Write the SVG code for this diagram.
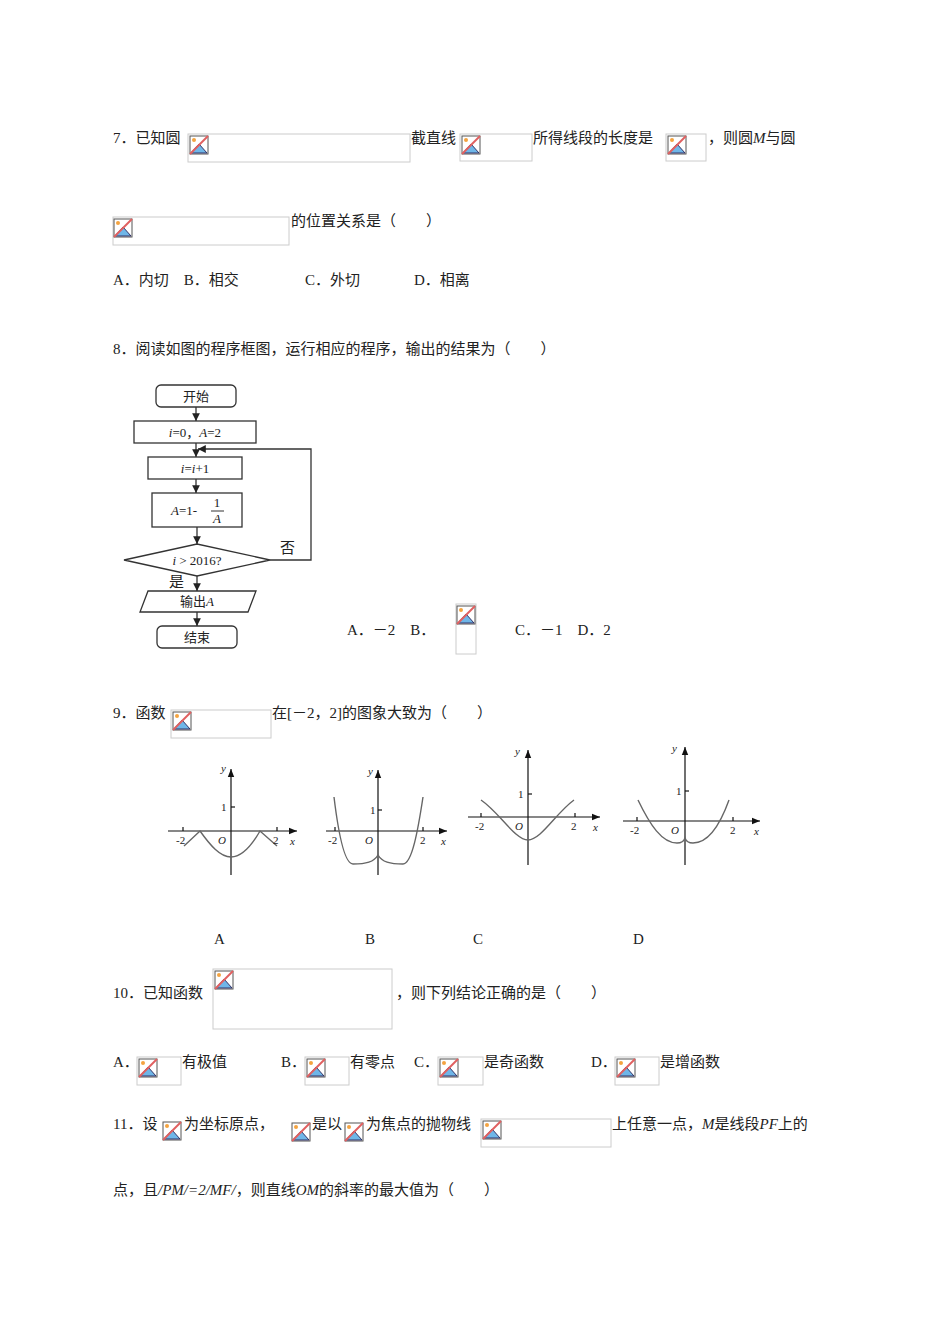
<svg xmlns="http://www.w3.org/2000/svg" width="950" height="1344" viewBox="0 0 950 1344">
<style>
text{font-family:"Liberation Serif","Noto Sans CJK SC",serif;font-size:15px;fill:#222}
.bx{fill:#fff;stroke:#ccc;stroke-width:1}
.fc{fill:#fff;stroke:#333;stroke-width:1.3}
.ft{font-size:13px;text-anchor:middle}
.ax{stroke:#111;stroke-width:1.2;fill:none}
.cv{stroke:#666;stroke-width:1.4;fill:none}
.gt{font-size:11px}
.cn{stroke:#333;stroke-width:1.3;fill:none}
</style>
<defs>
<symbol id="ic" viewBox="0 0 20 20">
<rect x="1" y="1" width="18" height="18" fill="#fff" stroke="#555"/>
<path d="M2 18 L10 9 L18 18 Z" fill="#6fb6e8" stroke="#336"/>
<circle cx="5" cy="5" r="2" fill="#f4a340"/>
<line x1="1" y1="19" x2="19" y2="1" stroke="#e06060" stroke-width="2"/>
</symbol>
<marker id="ar" viewBox="0 0 10 10" refX="10" refY="5" markerWidth="6" markerHeight="6" orient="auto"><path d="M0 0L10 5L0 10Z" fill="#222"/></marker>
<marker id="ax" viewBox="0 0 10 10" refX="10" refY="5" markerWidth="7" markerHeight="7" orient="auto"><path d="M0 1L10 5L0 9Z" fill="#111"/></marker>
</defs>
<rect width="950" height="1344" fill="#fff"/>
<g id="q7">
<text x="113" y="143">7．已知圆</text>
<rect class="bx" x="188" y="134" width="222" height="28"/><use href="#ic" x="189" y="135" width="20" height="20"/>
<text x="411" y="143">截直线</text>
<rect class="bx" x="460" y="134" width="72" height="27"/><use href="#ic" x="461" y="135" width="20" height="20"/>
<text x="533" y="143">所得线段的长度是</text>
<rect class="bx" x="666" y="134" width="40" height="27"/><use href="#ic" x="667" y="135" width="20" height="20"/>
<text x="708" y="143">，则圆<tspan font-style="italic">M</tspan>与圆</text>
<rect class="bx" x="113" y="217" width="176" height="28"/><use href="#ic" x="113" y="218" width="20" height="20"/>
<text x="291" y="226">的位置关系是（　　）</text>
<text x="113" y="285">A．内切　B．相交</text>
<text x="305" y="285">C．外切</text>
<text x="414" y="285">D．相离</text>
</g>
<g id="q8">
<text x="113" y="354">8．阅读如图的程序框图，运行相应的程序，输出的结果为（　　）</text>
</g>
<g id="flowchart">
<g id="n-start"><rect class="fc" x="156" y="385" width="80" height="22" rx="5"/><text class="ft" x="196" y="401">开始</text></g>
<g id="n-init"><rect class="fc" x="134" y="421" width="122" height="22"/><text class="ft" x="195" y="437" font-style="italic">i<tspan font-style="normal">=0，</tspan>A<tspan font-style="normal">=2</tspan></text></g>
<g id="n-inc"><rect class="fc" x="148" y="457" width="94" height="22"/><text class="ft" x="195" y="473" font-style="italic">i<tspan font-style="normal">=</tspan>i<tspan font-style="normal">+1</tspan></text></g>
<g id="n-a"><rect class="fc" x="152" y="493" width="90" height="34"/><text class="ft" x="184" y="515" font-style="italic">A<tspan font-style="normal">=1-</tspan></text><text class="ft" x="217" y="507">1</text><line x1="211" y1="511" x2="224" y2="511" stroke="#333"/><text class="ft" x="217" y="523" font-style="italic">A</text></g>
<g id="n-cond"><path class="fc" d="M124 560L197 544L270 560L197 576Z"/><text class="ft" x="197" y="565"><tspan font-style="italic">i</tspan> &gt; 2016?</text></g>
<g id="n-out"><path class="fc" d="M148 591L256 591L248 612L140 612Z"/><text class="ft" x="197" y="606">输出<tspan font-style="italic">A</tspan></text></g>
<g id="n-end"><rect class="fc" x="157" y="626" width="80" height="22" rx="5"/><text class="ft" x="197" y="642">结束</text></g>
<g id="connectors">
<line class="cn" x1="196" y1="407" x2="196" y2="421" marker-end="url(#ar)"/>
<line class="cn" x1="196" y1="443" x2="196" y2="457" marker-end="url(#ar)"/>
<line class="cn" x1="196" y1="479" x2="196" y2="493" marker-end="url(#ar)"/>
<line class="cn" x1="197" y1="527" x2="197" y2="544" marker-end="url(#ar)"/>
<line class="cn" x1="197" y1="576" x2="197" y2="591" marker-end="url(#ar)"/>
<line class="cn" x1="197" y1="612" x2="197" y2="626" marker-end="url(#ar)"/>
<polyline class="cn" points="270,560 311,560 311,449 198,449" marker-end="url(#ar)"/>
<text x="280" y="553" font-size="13">否</text>
<text x="169" y="587" font-size="13">是</text>
</g>
</g>
<g id="q8opts">
<text x="347" y="635">A．－2　B．</text>
<rect class="bx" x="456" y="604" width="20" height="50"/><use href="#ic" x="456" y="605" width="20" height="20"/>
<text x="515" y="635">C．－1　D．2</text>
</g>
<g id="q9">
<text x="113" y="718">9．函数</text>
<rect class="bx" x="171" y="710" width="100" height="28"/><use href="#ic" x="172" y="711" width="20" height="20"/>
<text x="272" y="718">在[－2，2]的图象大致为（　　）</text>
</g>
<g id="graphA">
<line class="ax" x1="168" y1="831" x2="297" y2="831" marker-end="url(#ax)"/>
<line class="ax" x1="231" y1="875" x2="231" y2="769" marker-end="url(#ax)"/>
<line class="ax" x1="231" y1="807" x2="235" y2="807"/><line class="ax" x1="183" y1="831" x2="183" y2="827"/><line class="ax" x1="277" y1="831" x2="277" y2="827"/>
<path class="cv" d="M184 846L200 831C210 845 220 857 231 857C242 857 252 845 260 831L277 846"/>
<text class="gt" x="221" y="772" font-style="italic">y</text><text class="gt" x="221" y="811">1</text>
<text class="gt" x="176" y="844">-2</text><text class="gt" x="218" y="844" font-style="italic">O</text><text class="gt" x="273" y="844">2</text><text class="gt" x="290" y="845" font-style="italic">x</text>
</g>
<g id="graphB">
<line class="ax" x1="326" y1="831" x2="447" y2="831" marker-end="url(#ax)"/>
<line class="ax" x1="378" y1="875" x2="378" y2="770" marker-end="url(#ax)"/>
<line class="ax" x1="378" y1="810" x2="382" y2="810"/><line class="ax" x1="335" y1="831" x2="335" y2="827"/><line class="ax" x1="423" y1="831" x2="423" y2="827"/>
<path class="cv" d="M334 797C338 830 344 864 353 864C366 864 374 862 378 855C382 862 390 864 403 864C412 864 418 830 423 797"/>
<text class="gt" x="368" y="775" font-style="italic">y</text><text class="gt" x="370" y="814">1</text>
<text class="gt" x="328" y="844">-2</text><text class="gt" x="365" y="844" font-style="italic">O</text><text class="gt" x="420" y="844">2</text><text class="gt" x="441" y="845" font-style="italic">x</text>
</g>
<g id="graphC">
<line class="ax" x1="468" y1="817" x2="600" y2="817" marker-end="url(#ax)"/>
<line class="ax" x1="528" y1="865" x2="528" y2="750" marker-end="url(#ax)"/>
<line class="ax" x1="528" y1="794" x2="532" y2="794"/><line class="ax" x1="481" y1="817" x2="481" y2="813"/><line class="ax" x1="575" y1="817" x2="575" y2="813"/>
<path class="cv" d="M481 800C500 813 515 840 528 840C541 840 556 813 574 800"/>
<text class="gt" x="515" y="755" font-style="italic">y</text><text class="gt" x="518" y="798">1</text>
<text class="gt" x="475" y="830">-2</text><text class="gt" x="515" y="830" font-style="italic">O</text><text class="gt" x="571" y="830">2</text><text class="gt" x="593" y="831" font-style="italic">x</text>
</g>
<g id="graphD">
<line class="ax" x1="623" y1="821" x2="760" y2="821" marker-end="url(#ax)"/>
<line class="ax" x1="685" y1="865" x2="685" y2="747" marker-end="url(#ax)"/>
<line class="ax" x1="685" y1="791" x2="689" y2="791"/><line class="ax" x1="637" y1="821" x2="637" y2="817"/><line class="ax" x1="733" y1="821" x2="733" y2="817"/>
<path class="cv" d="M638 800C650 825 662 843 677 843C682 843 684 841 685 838C686 841 688 843 693 843C708 843 720 825 729 800"/>
<text class="gt" x="672" y="752" font-style="italic">y</text><text class="gt" x="676" y="795">1</text>
<text class="gt" x="630" y="834">-2</text><text class="gt" x="671" y="834" font-style="italic">O</text><text class="gt" x="730" y="834">2</text><text class="gt" x="754" y="835" font-style="italic">x</text>
</g>
<g id="labels9">
<text x="214" y="944">A</text><text x="365" y="944">B</text><text x="473" y="944">C</text><text x="633" y="944">D</text>
</g>
<g id="q10">
<text x="113" y="998">10．已知函数</text>
<rect class="bx" x="213" y="969" width="179" height="60"/><use href="#ic" x="214" y="970" width="20" height="20"/>
<text x="396" y="998">，则下列结论正确的是（　　）</text>
<text x="113" y="1067">A．</text><rect class="bx" x="137" y="1057" width="44" height="28"/><use href="#ic" x="138" y="1058" width="20" height="20"/><text x="182" y="1067">有极值</text>
<text x="281" y="1067">B．</text><rect class="bx" x="305" y="1057" width="44" height="28"/><use href="#ic" x="306" y="1058" width="20" height="20"/><text x="350" y="1067">有零点</text>
<text x="414" y="1067">C．</text><rect class="bx" x="438" y="1057" width="45" height="28"/><use href="#ic" x="439" y="1058" width="20" height="20"/><text x="484" y="1067">是奇函数</text>
<text x="591" y="1067">D．</text><rect class="bx" x="615" y="1057" width="44" height="28"/><use href="#ic" x="616" y="1058" width="20" height="20"/><text x="660" y="1067">是增函数</text>
</g>
<g id="q11">
<text x="113" y="1129">11．设</text>
<use href="#ic" x="162" y="1121" width="20" height="20"/>
<text x="184" y="1129">为坐标原点，</text>
<use href="#ic" x="291" y="1122" width="20" height="20"/>
<text x="312" y="1129">是以</text>
<use href="#ic" x="344" y="1122" width="20" height="20"/>
<text x="366" y="1129">为焦点的抛物线</text>
<rect class="bx" x="481" y="1119" width="130" height="28"/><use href="#ic" x="482" y="1120" width="20" height="20"/>
<text x="612" y="1129">上任意一点，<tspan font-style="italic">M</tspan>是线段<tspan font-style="italic">PF</tspan>上的</text>
<text x="113" y="1195">点，且<tspan font-style="italic">/PM/=2/MF/</tspan>，则直线<tspan font-style="italic">OM</tspan>的斜率的最大值为（　　）</text>
</g>
</svg>
